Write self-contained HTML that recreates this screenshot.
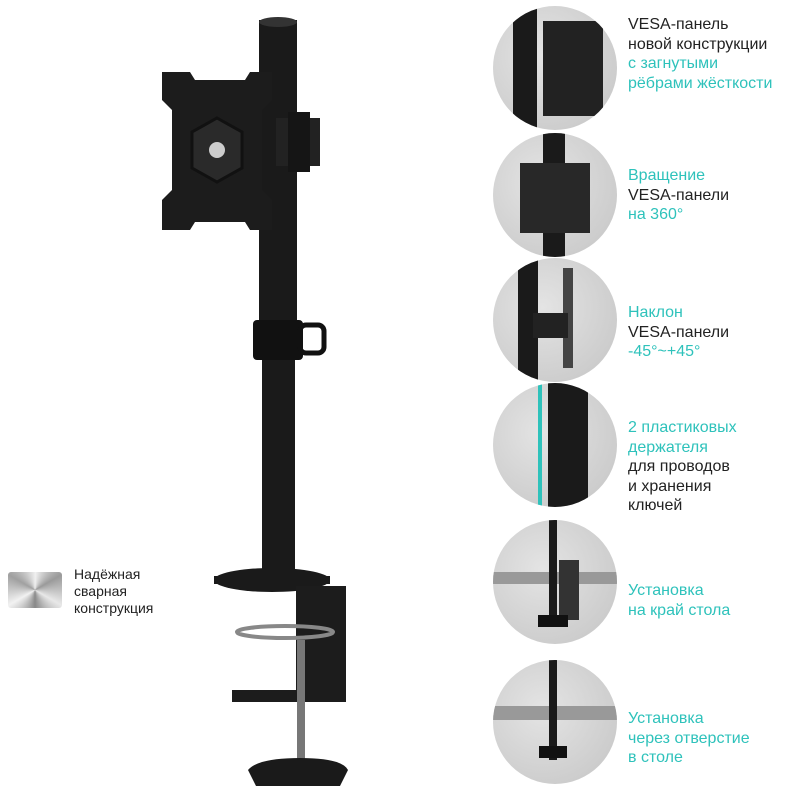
<!DOCTYPE html>
<html><head><meta charset="utf-8"><style>
body{margin:0;width:800px;height:800px;background:#fff;position:relative;overflow:hidden;font-family:"Liberation Sans","DejaVu Sans",sans-serif}
.t{position:absolute;left:628px;font-size:16px;line-height:19.5px;color:#222}
.c{color:#2ec2bb}
.circ{position:absolute;width:124px;height:124px;border-radius:50%;background:radial-gradient(circle at 40% 40%,#e4e4e4,#c4c4c4);overflow:hidden}
</style></head><body>
<svg width="800" height="800" style="position:absolute;left:0;top:0">
<!-- pole -->
<rect x="259" y="20" width="38" height="300" fill="#1a1a1a"/>
<ellipse cx="278" cy="22" rx="19" ry="5" fill="#333"/>
<rect x="262" y="355" width="33" height="228" fill="#1a1a1a"/>
<rect x="253" y="320" width="50" height="40" rx="4" fill="#111"/>
<rect x="300" y="325" width="24" height="28" rx="6" fill="none" stroke="#111" stroke-width="5"/>
<!-- VESA plate -->
<path d="M162 72 L190 72 L195 80 L245 80 L250 72 L272 72 L272 100 L262 110 L262 190 L272 200 L272 230 L250 230 L245 222 L195 222 L190 230 L162 230 L162 200 L172 190 L172 110 L162 100 Z" fill="#1c1c1c"/>
<polygon points="217,118 242,132 242,168 217,182 192,168 192,132" fill="#2a2a2a" stroke="#111" stroke-width="3"/>
<circle cx="217" cy="150" r="8" fill="#ccc"/>
<rect x="276" y="118" width="44" height="48" fill="#222"/>
<rect x="288" y="112" width="22" height="60" fill="#151515"/>
<!-- base -->
<ellipse cx="272" cy="580" rx="58" ry="12" fill="#1a1a1a"/>
<rect x="214" y="576" width="116" height="8" fill="#1a1a1a"/>
<rect x="296" y="586" width="50" height="112" fill="#1c1c1c"/>
<ellipse cx="285" cy="632" rx="48" ry="6" fill="none" stroke="#888" stroke-width="4"/>
<rect x="232" y="690" width="114" height="12" fill="#1c1c1c"/>
<rect x="297" y="640" width="8" height="120" fill="#777"/>
<path d="M248 770 Q258 758 300 758 Q342 758 348 770 L340 786 L256 786 Z" fill="#1a1a1a"/>
</svg>
<div style="position:absolute;left:8px;top:572px;width:54px;height:36px;background:conic-gradient(from 0deg at 50% 50%,#f2f2f2,#9a9a9a,#e8e8e8,#888,#f2f2f2,#a0a0a0,#eee);border-radius:3px"></div>
<div style="position:absolute;left:74px;top:566px;font-size:14px;line-height:17px;color:#222">Надёжная<br>сварная<br>конструкция</div>

<div class="circ" style="left:493px;top:6px"><div style="position:absolute;left:20px;top:0;width:24px;height:124px;background:#1a1a1a"></div><div style="position:absolute;left:50px;top:15px;width:60px;height:95px;background:#222"></div></div>
<div class="circ" style="left:493px;top:133px"><div style="position:absolute;left:50px;top:0;width:22px;height:124px;background:#1a1a1a"></div><div style="position:absolute;left:27px;top:30px;width:70px;height:70px;background:#282828"></div></div>
<div class="circ" style="left:493px;top:258px"><div style="position:absolute;left:25px;top:0;width:20px;height:124px;background:#1a1a1a"></div><div style="position:absolute;left:70px;top:10px;width:10px;height:100px;background:#444"></div><div style="position:absolute;left:40px;top:55px;width:35px;height:25px;background:#222"></div></div>
<div class="circ" style="left:493px;top:383px"><div style="position:absolute;left:55px;top:0;width:40px;height:124px;background:#1a1a1a"></div><div style="position:absolute;left:45px;top:0;width:4px;height:124px;background:#2ec2bb"></div></div>
<div class="circ" style="left:493px;top:520px"><div style="position:absolute;left:0;top:52px;width:124px;height:12px;background:#999"></div><div style="position:absolute;left:56px;top:0;width:8px;height:100px;background:#1a1a1a"></div><div style="position:absolute;left:66px;top:40px;width:20px;height:60px;background:#333"></div><div style="position:absolute;left:45px;top:95px;width:30px;height:12px;background:#111"></div></div>
<div class="circ" style="left:493px;top:660px"><div style="position:absolute;left:0;top:46px;width:124px;height:14px;background:#999"></div><div style="position:absolute;left:56px;top:0;width:8px;height:100px;background:#1a1a1a"></div><div style="position:absolute;left:46px;top:86px;width:28px;height:12px;background:#111"></div></div>

<div class="t" style="top:15px">VESA-панель<br>новой конструкции<br><span class="c">с загнутыми<br>рёбрами жёсткости</span></div>
<div class="t" style="top:166px"><span class="c">Вращение</span><br>VESA-панели<br><span class="c">на 360°</span></div>
<div class="t" style="top:303px"><span class="c">Наклон</span><br>VESA-панели<br><span class="c">-45°~+45°</span></div>
<div class="t" style="top:418px"><span class="c">2 пластиковых<br>держателя</span><br>для проводов<br>и хранения<br>ключей</div>
<div class="t c" style="top:581px">Установка<br>на край стола</div>
<div class="t c" style="top:709px">Установка<br>через отверстие<br>в столе</div>
</body></html>
